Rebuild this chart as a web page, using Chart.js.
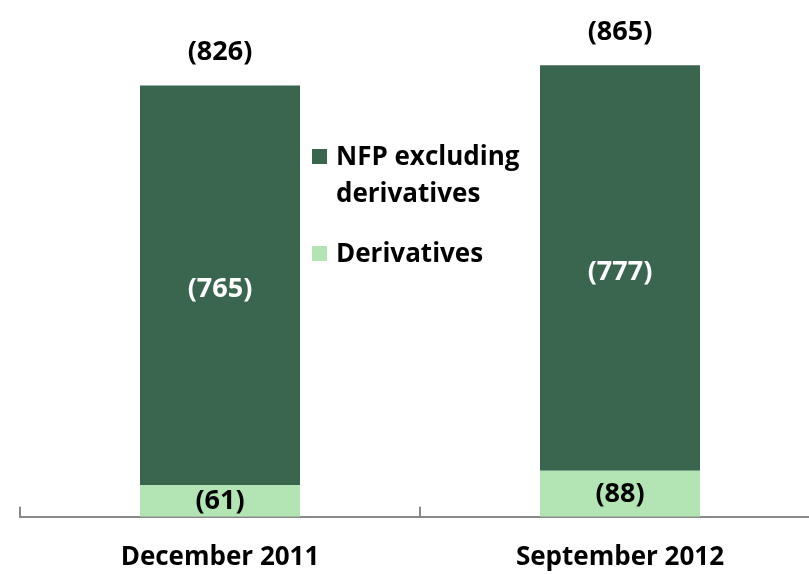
<!DOCTYPE html>
<html>
<head>
<meta charset="utf-8">
<script src="https://cdn.jsdelivr.net/npm/chart.js@4/dist/chart.umd.min.js"></script>
<style>
  html, body { margin: 0; padding: 0; background: #fff; overflow: hidden; }
  #wrap { width: 809px; height: 574px; overflow: hidden; position: relative; }
</style>
</head>
<body>
<div id="wrap"><canvas id="myChart" width="840" height="598"></canvas></div>
<script>
// values
const categories = ["December 2011", "September 2012"];
const derivatives = [61, 88];
const nfpExclDerivatives = [765, 777];
const totals = [826, 865];
const seriesNames = [["NFP excluding", "derivatives"], ["Derivatives"]];

const DARK = "#3A6650";
const LIGHT = "#B3E4B4";
const AXIS = "#898989";
const FONT = "'Open Sans', 'Noto Sans', sans-serif";

// labels inside segments and totals above bars
const labelPlugin = {
    id: "barLabels",
    afterDatasetsDraw(chart) {
        const ctx = chart.ctx;
        ctx.save();
        ctx.font = "bold 27px " + FONT;
        ctx.textAlign = "center";
        ctx.textBaseline = "middle";
        chart.data.datasets.forEach((ds, di) => {
            const meta = chart.getDatasetMeta(di);
            meta.data.forEach((bar, i) => {
                const mid = (bar.y + bar.base) / 2;
                ctx.fillStyle = di === 1 ? "#ffffff" : "#000000";
                ctx.fillText("(" + ds.data[i] + ")", bar.x, mid + (di === 1 ? 4 : 0));
            });
        });
        const yScale = chart.scales.y;
        const topMeta = chart.getDatasetMeta(1);
        totals.forEach((t, i) => {
            ctx.fillStyle = "#000000";
            ctx.fillText("(" + t + ")", topMeta.data[i].x, yScale.getPixelForValue(t) - 33);
        });
        ctx.restore();
    }
};

// small tick marks standing up from the axis at category edges
const tickPlugin = {
    id: "upTicks",
    afterDraw(chart) {
        const ctx = chart.ctx;
        const x = chart.scales.x;
        const half = (x.right - x.left) / categories.length / 2;
        const bottom = chart.chartArea.bottom;
        ctx.save();
        ctx.strokeStyle = AXIS;
        ctx.lineWidth = 2;
        for (let i = 0; i <= categories.length; i++) {
            const px = i < categories.length ? x.getPixelForValue(i) - half : x.getPixelForValue(i - 1) + half;
            ctx.beginPath();
            ctx.moveTo(px, bottom);
            ctx.lineTo(px, bottom - 10);
            ctx.stroke();
        }
        ctx.restore();
    }
};

// legend drawn in the gap between the bars
const legendPlugin = {
    id: "sideLegend",
    afterDraw(chart) {
        const ctx = chart.ctx;
        ctx.save();
        ctx.font = "bold 26px " + FONT;
        ctx.textBaseline = "alphabetic";
        ctx.textAlign = "left";
        const items = [
            { color: DARK, lines: seriesNames[0], y: 165 },
            { color: LIGHT, lines: seriesNames[1], y: 262 }
        ];
        items.forEach(it => {
            ctx.fillStyle = it.color;
            ctx.fillRect(312, it.y - 16, 15, 15);
            ctx.fillStyle = "#000";
            it.lines.forEach((ln, k) => {
                ctx.fillText(ln, 336, it.y + k * 37);
            });
        });
        ctx.restore();
    }
};

new Chart("myChart", {
    type: "bar",
    data: {
        labels: categories,
        datasets: [{
            label: seriesNames[1].join(" "),
            backgroundColor: LIGHT,
            data: derivatives
        }, {
            label: seriesNames[0].join(" "),
            backgroundColor: DARK,
            data: nfpExclDerivatives
        }]
    },
    options: {
        responsive: false,
        animation: false,
        layout: { padding: { left: 20, right: 20, top: 0, bottom: 0 } },
        datasets: { bar: { barPercentage: 0.4, categoryPercentage: 1.0 } },
        plugins: { legend: { display: false }, tooltip: { enabled: false } },
        scales: {
            x: {
                stacked: true,
                grid: { display: true, drawOnChartArea: false, drawTicks: false },
                border: { display: true, color: AXIS, width: 2 },
                ticks: { color: "#000", font: { family: FONT, size: 26, weight: "bold" }, padding: 25 }
            },
            y: {
                stacked: true,
                display: false,
                min: 0,
                max: 990
            }
        }
    },
    plugins: [labelPlugin, tickPlugin, legendPlugin]
});
</script>
</body>
</html>
